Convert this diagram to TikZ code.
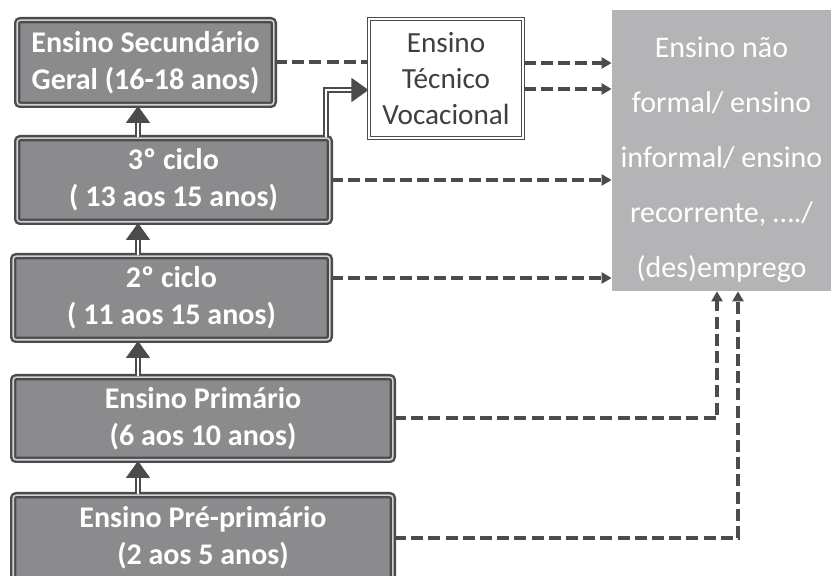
\documentclass[tikz,border=0pt]{standalone}
\usepackage{fontspec}
\setmainfont{Carlito}
\usetikzlibrary{arrows.meta,positioning,calc}
\definecolor{lineGray}{HTML}{4B4B4D}
\definecolor{boxGray}{HTML}{8B8B8D}
\definecolor{rimGray}{HTML}{D2D2D4}
\definecolor{nfGray}{HTML}{B4B4B6}
\definecolor{tecText}{HTML}{3F3F41}
\tikzset{level box/.style={draw=lineGray, double=rimGray, line width=1.2pt, double distance=0.8pt,
		rounded corners=1.5pt, fill=boxGray, text=white, align=center, inner sep=0pt,
		font=\bfseries\fontsize{15pt}{18.5pt}\selectfont}}
\tikzset{tec box/.style={draw=lineGray, double=white, line width=0.55pt, double distance=1pt,
		fill=white, text=tecText, align=center, inner sep=0pt,
		font=\fontsize{14.6pt}{18pt}\selectfont}}
\tikzset{nf box/.style={fill=nfGray, text=white, align=center, inner sep=0pt,
		font=\fontsize{15pt}{27.5pt}\selectfont}}
\tikzset{
	rise arrow/.style={draw=lineGray, double=white, line width=0.8pt, double distance=1.3pt,
		-{Triangle[length=8.5pt,width=12pt]}},
	dash link/.style={draw=lineGray, line width=2pt, dash pattern=on 6pt off 2.6pt},
	dash arrow/.style={dash link, -{Triangle[length=5pt,width=5.5pt]}}
}

\begin{document}
\begin{tikzpicture}[x=0.5pt, y=-0.5pt]
	\useasboundingbox (0,0) rectangle (831,576);
	\node[level box, minimum width=128.3pt, minimum height=42.3pt] at (145.5,62.5) (sec) {Ensino Secundário\\Geral (16-18 anos)};
	\node[level box, minimum width=156.3pt, minimum height=41.8pt] at (173.5,180) (c3) {3º ciclo\\( 13 aos 15 anos)};
	\node[level box, minimum width=158.3pt, minimum height=41.8pt] at (171.5,298) (c2) {2º ciclo\\( 11 aos 15 anos)};
	\node[level box, minimum width=189.8pt, minimum height=41.3pt] at (203,418.5) (prim) {Ensino Primário\\(6 aos 10 anos)};
	\node[level box, minimum width=189.8pt, minimum height=42.8pt] at (203,538) (pre) {Ensino Pré-primário\\(2 aos 5 anos)};
	\node[tec box, minimum width=77pt, minimum height=59.5pt] at (446,78.5) (tec) {Ensino\\Técnico\\Vocacional};
	\node[nf box, minimum width=109.5pt, minimum height=140.5pt] at (721.5,150.5) (nf) {\rule{0pt}{19.3pt}Ensino não\\formal/ ensino\\informal/ ensino\\recorrente, …./\\(des)emprego};
	% ladder
	\coordinate (spine) at (138,0);
	\draw[rise arrow] (pre.north -| spine) -- (prim.south -| spine);
	\draw[rise arrow] (prim.north -| spine) -- (c2.south -| spine);
	\draw[rise arrow] (c2.north -| spine) -- (c3.south -| spine);
	\draw[rise arrow] (c3.north -| spine) -- (sec.south -| spine);
	\draw[rise arrow] ([xshift=-2.5pt]c3.north east) |- ([yshift=-5.75pt]tec.west);
	% exits
	\draw[dash link] (sec.east) -- (sec.east -| tec.west);
	\draw[dash arrow] ([yshift=7.75pt]tec.east) -- ([yshift=7.75pt]tec.east -| nf.west);
	\draw[dash arrow] ([yshift=-5.25pt]tec.east) -- ([yshift=-5.25pt]tec.east -| nf.west);
	\draw[dash arrow] (c3.east) -- (c3.east -| nf.west);
	\draw[dash arrow] ([yshift=10pt]c2.east) -- ([yshift=10pt]c2.east -| nf.west);
	\coordinate (nfa) at (717,0);
	\coordinate (nfb) at (738,0);
	\draw[dash arrow] (prim.east) -| (nfa |- nf.south);
	\draw[dash arrow] (pre.east) -| (nfb |- nf.south);
\end{tikzpicture}
\end{document}
